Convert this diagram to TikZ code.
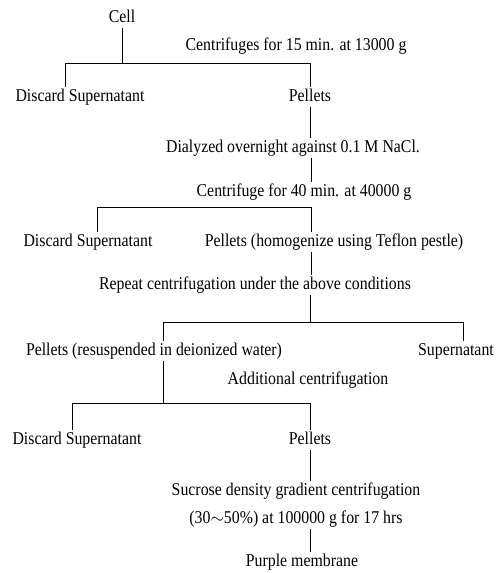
\documentclass[tikz,border=0pt]{standalone}
\usepackage{fontspec}
\setmainfont{Liberation Serif}[FakeStretch=0.88]
\begin{document}
\begin{tikzpicture}[x=1pt,y=-1pt,line width=0.65pt,
    lbl/.style={inner sep=1.5pt,text height=12pt,text depth=3.5pt,font=\fontsize{18}{28}\selectfont},
    twoline/.style={inner sep=1.5pt,align=center,font=\fontsize{18}{28}\selectfont}]
    \useasboundingbox (0,0) rectangle (499,573);
    %% cell and first spin
    \node[lbl] (cell) at (122,18) {Cell};
    \node[lbl] (spinA) at (296,46) {Centrifuges for 15 min. at 13000 g};
    \coordinate (b1l) at (65,63);
    \coordinate (b1r) at (310,63);
    \node[lbl] (discA) at (80,97) {Discard Supernatant};
    \node[lbl] (pelA) at (310,97) {Pellets};
    \draw (cell) -- (cell |- b1l);
    \draw (b1l |- discA.north) -- (b1l) -- (b1r) -- (pelA);
    %% dialysis and second spin
    \node[lbl] (dial) at (293,148) {Dialyzed overnight against 0.1 M NaCl.};
    \node[lbl] (spinB) at (304,192) {Centrifuge for 40 min. at 40000 g};
    \coordinate (b2l) at (97,207);
    \coordinate (b2r) at (311,207);
    \draw (pelA) -- (pelA |- dial.north);
    \draw (b2r |- dial.south) -- (b2r |- spinB.north);
    \node[lbl] (discB) at (88,242) {Discard Supernatant};
    \node[lbl] (homog) at (334,242) {Pellets (homogenize using Teflon pestle)};
    \draw (b2l |- discB.north) -- (b2l) -- (b2r) -- (b2r |- homog.north);
    %% repeat spin
    \node[lbl] (rep) at (255,285) {Repeat centrifugation under the above conditions};
    \coordinate (b3l) at (163,322);
    \coordinate (b3r) at (463,322);
    \coordinate (b3t) at (310,322);
    \draw (b2r |- homog.south) -- (b2r |- rep.north);
    \draw (b3t |- rep.south) -- (b3t);
    \node[lbl] (resus) at (154,351) {Pellets (resuspended in deionized water)};
    \node[lbl] (super) at (456,351) {Supernatant};
    \draw (b3l |- resus.north) -- (b3l) -- (b3r) -- (b3r |- super.north);
    %% additional spin
    \node[lbl] (addl) at (308,380) {Additional centrifugation};
    \coordinate (b4l) at (72,403);
    \coordinate (b4r) at (310,403);
    \coordinate (b4t) at (163,403);
    \draw (b3l |- resus.south) -- (b4t);
    \node[lbl] (discC) at (77,440) {Discard Supernatant};
    \node[lbl] (pelC) at (310,440) {Pellets};
    \draw (b4l |- discC.north) -- (b4l) -- (b4r) -- (pelC);
    %% gradient and membrane
    \node[twoline] (sucr) at (296,505) {Sucrose density gradient centrifugation\\(30$\sim$50\%) at 100000 g for 17 hrs};
    \node[lbl] (purp) at (302,562) {Purple membrane};
    \draw (pelC) -- (pelC |- sucr.north);
    \draw (pelC |- sucr.south) -- (pelC |- purp.north);
\end{tikzpicture}
\end{document}
